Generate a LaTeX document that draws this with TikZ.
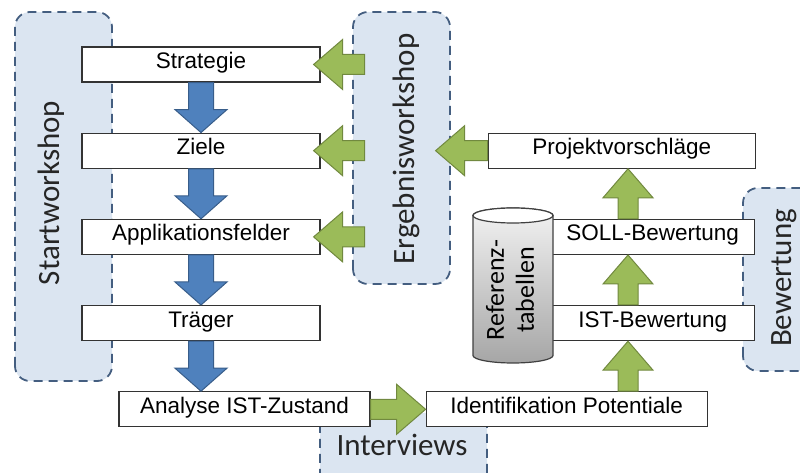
\documentclass[tikz,border=0pt]{standalone}
\usepackage{fontspec}
\setmainfont{Carlito}
\newfontfamily\boxfamily{Liberation Sans}
\usepackage{tikz}
\usetikzlibrary{calc,positioning}
\definecolor{regfill}{RGB}{219,229,241}
\definecolor{regline}{RGB}{68,94,128}
\definecolor{bluefill}{RGB}{79,129,189}
\definecolor{blueline}{RGB}{56,93,138}
\definecolor{greenfill}{RGB}{155,187,89}
\definecolor{greenline}{RGB}{113,137,63}
\newcommand{\boxfont}{\boxfamily\fontsize{22.5pt}{28pt}\selectfont}
\newcommand{\regfont}{\fontsize{31pt}{36pt}\selectfont}
\tikzstyle{box}=[rectangle,draw=black!80,line width=1.2pt,fill=white,minimum height=35pt,inner sep=2pt,text height=0.8em,text depth=0pt,font=\boxfont]
\tikzstyle{region}=[draw=regline,fill=regfill,dash pattern=on 9pt off 6pt,line width=1.8pt,rounded corners=15pt]
\tikzstyle{reglabel}=[font=\regfont,text=black!85,inner sep=0pt]
\tikzstyle{bluefat}=[fill=bluefill,draw=blueline,line width=1pt]
\tikzstyle{greenfat}=[fill=greenfill,draw=greenline,line width=1pt]
% fat block arrow: style, from, to, half shaft, half head, head length
\newcommand{\fatarrow}[6]{
  \coordinate (fa-s) at #2;
  \coordinate (fa-e) at #3;
  \coordinate (fa-h) at ($(fa-e)!#6!(fa-s)$);
  \draw[#1] ($(fa-s)!#4!90:(fa-e)$) -- ($(fa-h)!#4!90:(fa-e)$)
    -- ($(fa-h)!#5!90:(fa-e)$) -- (fa-e) -- ($(fa-h)!#5!-90:(fa-e)$)
    -- ($(fa-h)!#4!-90:(fa-e)$) -- ($(fa-s)!#4!-90:(fa-e)$) -- cycle;
}
\newcommand{\bluearrow}[2]{\fatarrow{bluefat}{#1}{#2}{12.5pt}{26pt}{23pt}}
\newcommand{\greenarrow}[2]{\fatarrow{greenfat}{#1}{#2}{10pt}{25pt}{29pt}}

\begin{document}
\begin{tikzpicture}[x=1pt,y=1pt,node distance=50pt]
\clip (0,0) rectangle (800,473);

% workshop and phase areas
\draw[region] (15,92) rectangle (112,461);
\draw[region] (353,189) rectangle (450,461);
\draw[region] (743,102) rectangle (830,285);
\draw[region] (320,-20) rectangle (487,60);
\node[reglabel,rotate=90] (start) at (51,280) {Startworkshop};
\node[reglabel,rotate=90] (ergeb) at (406,324) {Ergebnisworkshop};
\node[reglabel,rotate=90] (bewert) at (784,195) {Bewertung};
\node[reglabel] (interv) at (402,28) {Interviews};

% left column
\node[box,minimum width=238pt] (strat) at (201,408.5) {Strategie};
\node[box,minimum width=238pt,below=of strat] (ziele) {Ziele};
\node[box,minimum width=238pt,below=of ziele] (appl) {Applikationsfelder};
\node[box,minimum width=238pt,below=of appl] (trag) {Träger};
\node[box,minimum width=251pt,below=of trag,xshift=43.5pt] (ana) {Analyse IST-Zustand};

% right column
\node[box,minimum width=281pt,right=55pt of ana] (ident) {Identifikation Potentiale};
\node[box,minimum width=203pt,above=of ident,xshift=86pt] (ist) {IST-Bewertung};
\node[box,minimum width=203pt,above=of ist] (soll) {SOLL-Bewertung};
\node[box,minimum width=267pt,above=of soll,xshift=-31pt] (proj) {Projektvorschläge};

% reference tables
\coordinate (reftop) at (513,257.5);
\coordinate (refbot) at (513,117.5);
\draw[draw=black!75,line width=1.2pt,top color=black!5,bottom color=black!35]
  ([xshift=-40pt]reftop) -- ([xshift=-40pt]refbot)
  arc[start angle=180,end angle=360,x radius=40pt,y radius=7.5pt]
  -- ([xshift=40pt]reftop)
  arc[start angle=0,end angle=180,x radius=40pt,y radius=7.5pt] -- cycle;
\draw[draw=black!75,line width=1.2pt,fill=white] (reftop) ellipse[x radius=40pt,y radius=7.5pt];
\node[rotate=90,align=center,font=\fontsize{26pt}{30pt}\selectfont] (reftab) at (510,183) {Referenz-\\tabellen};

% arrows
\bluearrow{(strat.south)}{(ziele.north)}
\bluearrow{(ziele.south)}{(appl.north)}
\bluearrow{(appl.south)}{(trag.north)}
\bluearrow{(trag.south)}{(trag.south |- ana.north)}
\greenarrow{($(strat.east)+(44,0)$)}{($(strat.east)+(-7,0)$)}
\greenarrow{($(ziele.east)+(44,0)$)}{($(ziele.east)+(-7,0)$)}
\greenarrow{($(appl.east)+(44,0)$)}{($(appl.east)+(-7,0)$)}
\greenarrow{(proj.west)}{($(proj.west)+(-52,0)$)}
\greenarrow{(ana.east)}{(ident.west)}
\coordinate (upx) at (628,0);
\greenarrow{(upx |- ident.north)}{(upx |- ist.south)}
\greenarrow{(upx |- ist.north)}{(upx |- soll.south)}
\greenarrow{(upx |- soll.north)}{(upx |- proj.south)}
\end{tikzpicture}
\end{document}
